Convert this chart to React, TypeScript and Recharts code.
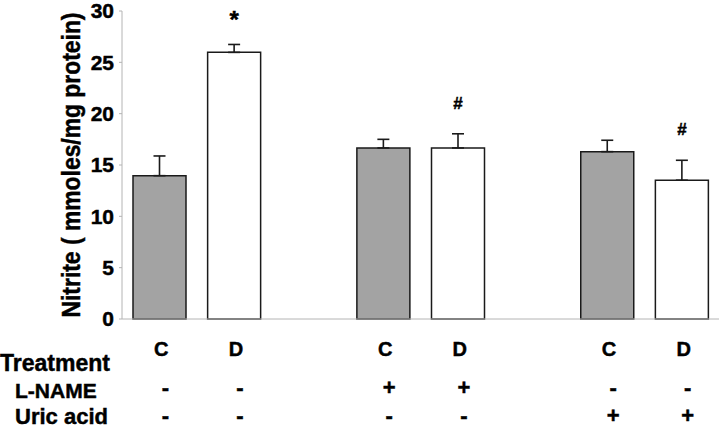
import React from 'react';
import { Bar, BarChart, Cell, ErrorBar, LabelList, Label, XAxis, YAxis } from 'recharts';

const slots = ['g1C', 'g1D', 'gap1', 'g2C', 'g2D', 'gap2', 'g3C', 'g3D'];
const treatment = ['C', 'D', '', 'C', 'D', '', 'C', 'D'];
const nitrite = [13.96, 25.97, null, 16.66, 16.66, null, 16.3, 13.52];
const sem = [1.92, 0.77, null, 0.84, 1.38, null, 1.11, 1.94];
const lName = ['-', '-', '', '+', '+', '', '-', '-'];
const uricAcid = ['-', '-', '', '-', '-', '', '+', '+'];
const marks = ['', '*', '', '', '#', '', '', '#'];
const yTicks = [0, 5, 10, 15, 20, 25, 30];
const rowLabels = ['Treatment', 'L-NAME', 'Uric acid'];

const FONT = '"Liberation Sans", Arial, sans-serif';
const GRAY = '#a3a3a3';
const INK = '#1a1a1a';
const AXIS = '#b4b4b4';
// the scanned figure's type is a little heavier than plain bold
const bold = { fontFamily: FONT, fontWeight: 700, stroke: '#000', strokeWidth: 0.45 };

const data = slots.map((slot, i) => ({
  slot,
  treatment: treatment[i],
  nitrite: nitrite[i],
  err: sem[i] == null ? null : [0, sem[i]],
}));

function TreatmentTick(props: any) {
  const { x, y, payload } = props;
  const i = slots.indexOf(payload?.value);
  const t = treatment[i];
  if (!t) return null;
  return (
    <g fill="#000" textAnchor="middle">
      <text x={x + 2} y={y + 37} fontSize={20} style={bold}>{t}</text>
      <text x={x + 6} y={y + 76} fontSize={22} style={bold}>{lName[i]}</text>
      <text x={x + 6} y={y + 104} fontSize={22} style={bold}>{uricAcid[i]}</text>
    </g>
  );
}

function ValueTick(props: any) {
  const { x, y, payload } = props;
  return (
    <text x={x} y={y} dy="0.355em" textAnchor="end" fontSize={21} fill="#000" style={bold}>
      {payload.value}
    </text>
  );
}

function MarkLabel(props: any) {
  const { x, y, width, height, value } = props;
  const i = slots.indexOf(value);
  const m = marks[i];
  const v = nitrite[i];
  const e = sem[i];
  if (!m || v == null || e == null) return null;
  const errTop = y - (e * height) / v;
  const isStar = m === '*';
  return (
    <text
      x={x + width / 2}
      y={isStar ? errTop - 16 : errTop - 25}
      textAnchor="middle"
      fontSize={isStar ? 24 : 17}
      fill="#000"
      style={bold}
    >
      {m}
    </text>
  );
}

function YTitle(props: any) {
  const vb = props.viewBox || { x: 0, y: 11, width: 122, height: 308 };
  const cx = 80;
  const cy = vb.y + vb.height / 2;
  return (
    <text
      x={cx}
      y={cy}
      transform={`rotate(-90, ${cx}, ${cy})`}
      textAnchor="middle"
      fontSize={25}
      textLength={305}
      lengthAdjust="spacingAndGlyphs"
      fill="#000"
      style={bold}
    >
      Nitrite ( mmoles/mg protein)
    </text>
  );
}

export default function App() {
  return (
    <div style={{ position: 'absolute', left: 0, top: 0, width: 720, height: 428, background: '#fff' }}>
      <BarChart width={720} height={428} data={data} margin={{ top: 11, right: 1, bottom: 0, left: 0 }}>
        <XAxis
          dataKey="slot"
          height={109}
          stroke={AXIS}
          tickLine={false}
          tickSize={0}
          tickMargin={0}
          interval={0}
          tick={<TreatmentTick />}
        />
        <YAxis
          width={122}
          domain={[0, 30]}
          ticks={yTicks}
          stroke={AXIS}
          tickSize={3}
          tickMargin={5}
          tick={<ValueTick />}
        >
          <Label content={<YTitle />} />
        </YAxis>
        <Bar dataKey="nitrite" barSize={53} stroke={INK} strokeWidth={1.5} isAnimationActive={false}>
          {data.map((d) => (
            <Cell key={d.slot} fill={d.treatment === 'C' ? GRAY : '#ffffff'} />
          ))}
          <ErrorBar dataKey="err" width={6} stroke={INK} strokeWidth={1.6} direction="y" />
          <LabelList dataKey="slot" content={<MarkLabel />} />
        </Bar>
        <g fill="#000">
          <text x={0} y={371} fontSize={23} style={bold}>{rowLabels[0]}</text>
          <text x={15} y={398} fontSize={21} style={bold}>{rowLabels[1]}</text>
          <text x={15} y={424} fontSize={22} style={bold}>{rowLabels[2]}</text>
        </g>
      </BarChart>
    </div>
  );
}
